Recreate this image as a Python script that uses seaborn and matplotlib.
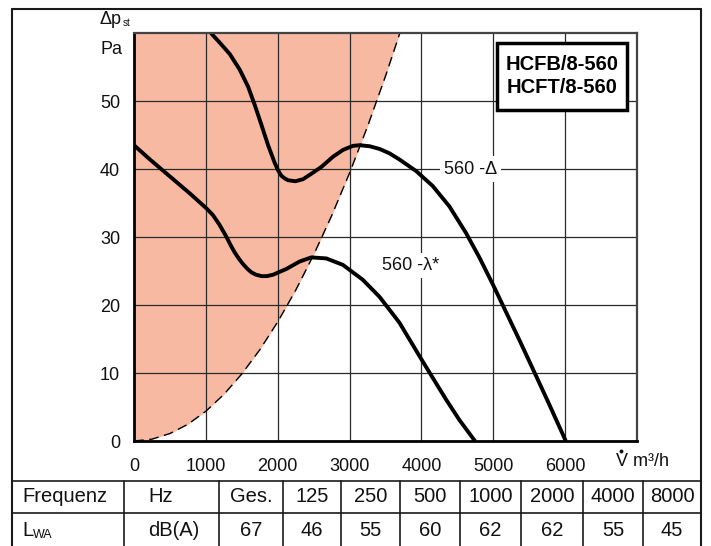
import numpy as np
import pandas as pd
import matplotlib
matplotlib.use("Agg")
import matplotlib.pyplot as plt
import seaborn as sns
from matplotlib.patches import Rectangle
from matplotlib.lines import Line2D

# ---------------- data ----------------
delta_x = [1069, 1200, 1333, 1472, 1588, 1681, 1773, 1866, 1958, 2005, 2051, 2100,
           2143, 2245, 2352, 2468, 2607, 2769, 2907, 3046, 3139, 3278, 3417, 3556,
           3694, 3926, 4157, 4389, 4620, 4806, 5000, 5185, 5361, 5546, 5778, 6009]
delta_y = [60.0, 58.5, 56.9, 54.6, 52.1, 49.4, 46.5, 43.5, 40.9, 39.8, 39.0, 38.6,
           38.35, 38.2, 38.5, 39.3, 40.3, 41.8, 42.8, 43.4, 43.5, 43.35, 42.95, 42.3,
           41.4, 39.7, 37.5, 34.5, 30.6, 27.0, 22.9, 18.8, 14.9, 10.7, 5.4, 0.0]
lambda_x = [0, 222, 500, 778, 1009, 1100, 1190, 1287, 1350, 1403, 1460, 1519, 1580,
            1634, 1700, 1773, 1850, 1935, 2120, 2306, 2468, 2676, 2907, 3185, 3417,
            3694, 3972, 4157, 4343, 4528, 4745]
lambda_y = [43.5, 41.4, 38.9, 36.4, 34.2, 33.2, 31.8, 30.0, 28.7, 27.7, 26.8, 26.0,
            25.3, 24.8, 24.45, 24.25, 24.25, 24.45, 25.3, 26.4, 27.0, 26.85, 25.9,
            23.7, 21.2, 17.4, 12.5, 9.3, 6.1, 3.1, 0.0]
system_x = [0, 250, 500, 750, 1000, 1250, 1500, 1750, 2000, 2250, 2500, 2750, 3000,
            3250, 3500, 3700]
system_y = [0, 0.27, 1.10, 2.46, 4.38, 6.84, 9.86, 13.41, 17.52, 22.17, 27.38, 33.12,
            39.42, 46.26, 53.66, 60]
x_ticks = [0, 1000, 2000, 3000, 4000, 5000, 6000]
y_ticks = [0, 10, 20, 30, 40, 50]
curve_labels = ["560 -\u0394", "560 -\u03bb*"]
title_lines = ["HCFB/8-560", "HCFT/8-560"]
table_header = ["Frequenz", "Hz", "Ges.", "125", "250", "500", "1000", "2000", "4000", "8000"]
table_values = ["L", "dB(A)", "67", "46", "55", "60", "62", "62", "55", "45"]

# ---------------- styling ----------------
sns.set_theme(style="white")
REG = ["Liberation Sans", "DejaVu Sans"]
plt.rcParams["font.family"] = REG

W, H = 711, 546
fig = plt.figure(figsize=(W / 100, H / 100), dpi=100)
fig.patch.set_facecolor("white")


def fx(x):
    return x / W


def fy(y):
    return 1 - y / H


ax = fig.add_axes([fx(134), fy(441), (637 - 134) / W, (441 - 33) / H])
ax.set_facecolor("white")
ax.set_xlim(0, 7000)
ax.set_ylim(0, 60)

# shaded region left of the system curve
ax.fill_between(system_x, system_y, 60, color="#F8B9A2", lw=0, zorder=1)

df_sys = pd.DataFrame({"x": system_x, "y": system_y})
sns.lineplot(data=df_sys, x="x", y="y", ax=ax, color="black", lw=1.0,
             sort=False, estimator=None, zorder=2.6)
ax.lines[-1].set_dashes((7, 4))

df_d = pd.DataFrame({"x": delta_x, "y": delta_y})
df_l = pd.DataFrame({"x": lambda_x, "y": lambda_y})
sns.lineplot(data=df_d, x="x", y="y", ax=ax, color="black", lw=2.8,
             sort=False, estimator=None, zorder=3)
sns.lineplot(data=df_l, x="x", y="y", ax=ax, color="black", lw=2.8,
             sort=False, estimator=None, zorder=3)
for ln in ax.lines[1:]:
    ln.set_solid_capstyle("butt")
    ln.set_solid_joinstyle("round")

# grid
ax.set_axisbelow("line")
ax.set_xticks(x_ticks)
ax.set_yticks(y_ticks)
ax.grid(True, color="#2a2a2a", lw=0.9)
ax.set_xlabel("")
ax.set_ylabel("")
ax.set_xticklabels([str(t) for t in x_ticks])
ax.set_yticklabels([str(t) for t in y_ticks])
ax.tick_params(axis="both", direction="out", length=6, width=1.4, color="black",
               labelsize=13, labelcolor="#111111")
ax.tick_params(axis="x", pad=6)
ax.tick_params(axis="y", pad=4)

for s in ["left", "bottom"]:
    ax.spines[s].set_color("black")
    ax.spines[s].set_linewidth(2.0)
for s in ["top", "right"]:
    ax.spines[s].set_color("#444444")
    ax.spines[s].set_linewidth(1.6)
for s in ax.spines.values():
    s.set_zorder(4)

# curve labels
ax.text(4680, 40, curve_labels[0], ha="center", va="center", fontsize=13,
        color="#111111", zorder=4,
        bbox=dict(facecolor="white", edgecolor="none", pad=3))
ax.text(3850, 25.8, curve_labels[1], ha="center", va="center", fontsize=13,
        color="#111111", zorder=4,
        bbox=dict(facecolor="white", edgecolor="none", pad=3))

# title box
fig.patches.append(Rectangle((fx(497), fy(110)), (627 - 497) / W, (110 - 43) / H,
                             transform=fig.transFigure, facecolor="white",
                             edgecolor="black", lw=2.5, zorder=10))
fig.text(fx(562), fy(76), "\n".join(title_lines), ha="center", va="center",
         fontsize=14.5, fontweight="bold", linespacing=1.25,
         color="black", zorder=11)

# axis labels
fig.text(fx(122), fy(20), "\u0394p", ha="right", va="center", fontsize=13,
         color="#111111")
fig.text(fx(122.5), fy(23), "st", ha="left", va="center", fontsize=7,
         color="#111111")
fig.text(fx(122), fy(50), "Pa", ha="right", va="center", fontsize=13,
         color="#111111")
fig.text(fx(616), fy(462), "V m\u00b3/h", ha="left", va="center", fontsize=13,
         color="#111111")
# dot above the V (volume flow symbol)
fig.lines.append(Line2D([fx(620.5)], [fy(450.5)], transform=fig.transFigure,
                        marker="o", markersize=1.8, color="#111111", lw=0))

# outer frame
frame_lw = 1.5
L, R, T, B = 12, 701, 9, 560


def hline(y, x0, x1, lw=frame_lw):
    fig.lines.append(Line2D([fx(x0), fx(x1)], [fy(y), fy(y)], transform=fig.transFigure,
                            color="#1a1a1a", lw=lw, zorder=12))


def vline(x, y0, y1, lw=frame_lw):
    fig.lines.append(Line2D([fx(x), fx(x)], [fy(y0), fy(y1)], transform=fig.transFigure,
                            color="#1a1a1a", lw=lw, zorder=12))


hline(T, L, R)
vline(L, T, B)
vline(R, T, B)

# table
row_top, row_mid, row_bot = 481, 513, 548
hline(row_top, L, R, lw=1.2)
hline(row_mid, L, R, lw=1.2)
col_edges = [12, 124, 219, 283, 341, 400, 460, 521, 583, 643, 701]
for cx in col_edges[1:-1]:
    vline(cx, row_top, B, lw=1.2)

y1 = (row_top + row_mid) / 2
y2 = (row_mid + row_bot) / 2
TS = 14.5
for i, (h, v) in enumerate(zip(table_header, table_values)):
    x0, x1 = col_edges[i], col_edges[i + 1]
    if i == 0:
        fig.text(fx(22), fy(y1), h, ha="left", va="center", fontsize=TS,
                 color="#111111")
        fig.text(fx(22), fy(y2), v, ha="left", va="center", fontsize=TS,
                 color="#111111")
        fig.text(fx(33), fy(y2 + 4), "WA", ha="left", va="center", fontsize=9,
                 color="#111111")
    elif i == 1:
        fig.text(fx(148), fy(y1), h, ha="left", va="center", fontsize=TS,
                 color="#111111")
        fig.text(fx(148), fy(y2), v, ha="left", va="center", fontsize=TS,
                 color="#111111")
    else:
        xc = (x0 + x1) / 2
        fig.text(fx(xc), fy(y1), h, ha="center", va="center", fontsize=TS,
                 color="#111111")
        fig.text(fx(xc), fy(y2), v, ha="center", va="center", fontsize=TS,
                 color="#111111")

fig.savefig("out.png", dpi=100)
